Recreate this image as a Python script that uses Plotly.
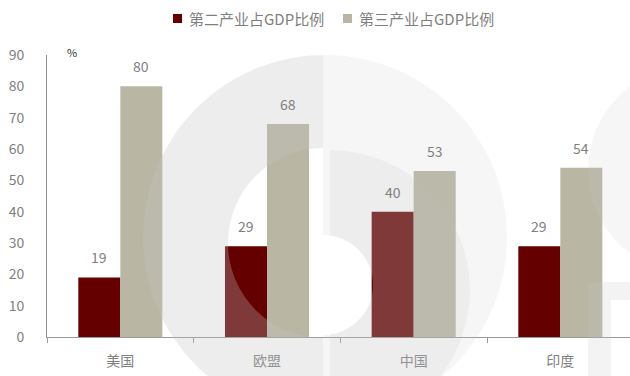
import base64
import plotly.graph_objects as go

# ---- data -------------------------------------------------------------
regions = ["美国", "欧盟", "中国", "印度"]
secondary_share = [19, 29, 40, 29]   # 第二产业占GDP比例 (%)
tertiary_share = [80, 68, 53, 54]    # 第三产业占GDP比例 (%)
series_names = ["第二产业占GDP比例", "第三产业占GDP比例"]
y_ticks = [0, 10, 20, 30, 40, 50, 60, 70, 80, 90]

# ---- styling ----------------------------------------------------------
W, H = 630, 376
L, R, T, B = 47, 0, 55, 39
RED = "#650000"
GREY = "#B9B7A4"
TXT = "#7F7F7F"
FONT = "Noto Sans CJK SC"

PW, PH = W - L - R, H - T - B


def px_x(px):
    return (px - L) / PW


def px_y(py):
    return (H - B - py) / PH


fig = go.Figure()
fig.add_trace(go.Bar(x=regions, y=secondary_share, name=series_names[0],
                     marker=dict(color=RED, line=dict(width=0))))
fig.add_trace(go.Bar(x=regions, y=tertiary_share, name=series_names[1],
                     marker=dict(color=GREY, line=dict(width=0))))

# value labels above each bar
bar_half = 21
annotations = []
for vals, shift in ((secondary_share, -bar_half), (tertiary_share, bar_half)):
    for cat, v in zip(regions, vals):
        annotations.append(dict(x=cat, y=v, xref="x", yref="y", text=str(v),
                                showarrow=False, xshift=shift, yshift=20,
                                yanchor="middle",
                                font=dict(family=FONT, size=14, color=TXT)))

# unit label
annotations.append(dict(x=px_x(72), y=px_y(52), xref="paper", yref="paper",
                        text="%", showarrow=False, xanchor="center",
                        yanchor="middle",
                        font=dict(family=FONT, size=11, color="#333333")))

# legend drawn as swatch + caption
shapes = []
for (sx, tx), name, col in zip(((173, 187), (343, 357)), series_names, (RED, GREY)):
    shapes.append(dict(type="rect", xref="paper", yref="paper",
                       x0=px_x(sx), x1=px_x(sx + 9), y0=px_y(14), y1=px_y(23),
                       fillcolor=col, line=dict(width=0), layer="above"))
    annotations.append(dict(x=px_x(tx), y=px_y(18.5), xref="paper", yref="paper",
                            text=name, showarrow=False, xanchor="left",
                            yanchor="middle",
                            font=dict(family=FONT, size=15, color=TXT)))

# faint logo watermark laid over the plot
svg = f"""<svg xmlns="http://www.w3.org/2000/svg" width="{W}" height="{H}" viewBox="0 0 {W} {H}">
<defs>
<mask id="hole">
<rect x="0" y="0" width="{W}" height="{H}" fill="white"/>
<path d="M 323 148 A 95 95 0 0 0 323 338 Z" fill="black"/>
<path d="M 323 235 A 50 50 0 0 1 323 335 Z" fill="black"/>
</mask>
<clipPath id="lefthalf"><rect x="0" y="0" width="323" height="{H}"/></clipPath>
<clipPath id="disc"><circle cx="325" cy="237" r="182"/></clipPath>
</defs>
<g mask="url(#hole)" fill="rgb(197,197,197)">
<circle cx="325" cy="237" r="182" fill-opacity="0.155"/>
<g clip-path="url(#disc)">
<rect x="0" y="0" width="323" height="{H}" fill-opacity="0.165"/>
<path d="M 330 150 A 140 140 0 0 1 330 430 Z" fill-opacity="0.165"/>
</g>
</g>
<g fill="rgb(197,197,197)">
<circle cx="692" cy="170" r="104" fill-opacity="0.16"/>
<path fill-rule="evenodd" fill-opacity="0.2" d="M 588 282 L 640 282 L 640 390 L 588 390 Z M 611 300 L 640 300 L 640 390 L 611 390 Z"/>
</g>
</svg>"""
uri = "data:image/svg+xml;base64," + base64.b64encode(svg.encode()).decode()

fig.update_layout(
    width=W, height=H,
    margin=dict(l=L, r=R, t=T, b=B, pad=0),
    paper_bgcolor="white", plot_bgcolor="white",
    barmode="group", bargap=0.427, bargroupgap=0,
    showlegend=False,
    font=dict(family=FONT, size=14, color=TXT),
    annotations=annotations,
    shapes=shapes,
    images=[dict(source=uri, xref="paper", yref="paper",
                 x=px_x(0), y=px_y(0), sizex=W / PW, sizey=H / PH,
                 xanchor="left", yanchor="top", sizing="stretch",
                 layer="above", opacity=1)],
    xaxis=dict(range=[-0.5, 3.475], showline=True, linecolor="#9A9A9A",
               linewidth=1, ticks="outside", tickson="boundaries",
               ticklen=5, tickcolor="#9A9A9A", showgrid=False,
               ticklabelstandoff=11,
               tickfont=dict(family=FONT, size=14, color=TXT)),
    yaxis=dict(range=[0, 90], tickvals=y_ticks, showline=True,
               linecolor="#8C8C8C", linewidth=1, ticks="", showgrid=False,
               zeroline=False, ticklabelstandoff=19,
               tickfont=dict(family=FONT, size=14, color=TXT)),
)

fig.write_html("out.html")
